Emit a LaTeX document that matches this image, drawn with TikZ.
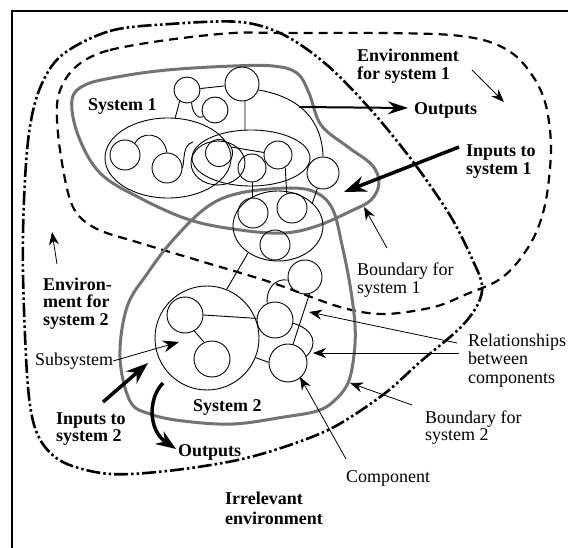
\documentclass[tikz,border=0pt]{standalone}
\usepackage{fontspec}
\setmainfont{Liberation Serif}
\usetikzlibrary{arrows.meta}
\begin{document}
\begin{tikzpicture}[x=1pt,y=-1pt,
  comp/.style={circle,draw,line width=0.9pt,inner sep=0pt},
  bnd/.style={draw=black!55,line width=3pt,line join=round},
  envone/.style={draw,line width=2.2pt,dash pattern=on 9pt off 6pt},
  envtwo/.style={draw,line width=2.6pt,dash pattern=on 14pt off 3pt on 2.5pt off 3pt on 2.5pt off 3pt},
  rel/.style={line width=0.9pt},
  lbl/.style={inner sep=0pt,anchor=north west,align=left,font=\fontsize{18}{17.5}\selectfont},
  blbl/.style={lbl,font=\fontsize{18}{17.5}\selectfont\bfseries},
  thinarr/.style={line width=0.8pt,-{Stealth[length=13pt,width=10pt]}},
  medarr/.style={line width=2pt,-{Stealth[length=20pt,width=13pt]}},
  thickarr/.style={line width=3.5pt,-{Stealth[length=22pt,width=16pt]}},
]
\useasboundingbox (0,0) rectangle (568,548);
\fill[white] (0,0) rectangle (568,548);

% frame
\draw[line width=2.6pt] (12,548) -- (12,11) -- (568,11);

% environment for system 2 (dash-dot)
\draw[envtwo] plot[smooth cycle,tension=0.55] coordinates {
 (62,55) (110,31) (170,24) (240,22) (284,35) (327,65) (371,110) (414,163)
 (451,217) (474,263) (482,285) (478,304) (460,328) (420,362) (384,394) (334,427)
 (284,447) (233,461) (167,471) (110,474) (67,464) (45,447) (33,421) (27,374)
 (23,274) (24,200) (29,133) (40,88)};

% environment for system 1 (dashed)
\draw[envone] plot[smooth cycle,tension=0.55] coordinates {
 (82,62) (110,50) (167,40) (233,33) (284,33) (384,33) (451,35) (490,42)
 (517,57) (537,83) (547,110) (551,150) (546,200) (535,235) (517,263) (497,281)
 (467,294) (434,307) (384,314) (340,307) (273,283) (207,263) (140,243) (95,228)
 (72,205) (60,150) (57,105) (65,80)};

% boundary for system 1
\draw[bnd] plot[smooth cycle,tension=0.6] coordinates {
 (72,100) (85,85) (117,77) (167,70) (233,66) (273,66) (297,73) (309,93)
 (321,125) (348,147) (372,165) (379,183) (371,200) (351,211) (317,226) (284,233)
 (240,230) (190,220) (140,198) (100,173) (78,135)};

% boundary for system 2
\draw[bnd] plot[smooth cycle,tension=0.6] coordinates {
 (147,274) (173,240) (207,207) (240,193) (290,188) (317,193) (333,210) (342,245)
 (350,285) (355,325) (354,355) (348,383) (334,401) (317,411) (284,417) (233,424)
 (183,421) (150,414) (130,401) (120,357) (127,307)};

% subsystem ellipses
\draw[rel] (168,158) ellipse [x radius=63, y radius=40];
\draw[rel] (251,158) ellipse [x radius=59, y radius=28];
\draw[rel] (218,163) ellipse [x radius=27, y radius=22];
\draw[rel] (278,226) ellipse [x radius=45, y radius=35];

% components
\node[comp,minimum size=26pt] (c1) at (187,90) {};
\node[comp,minimum size=34pt] (c2) at (242,84) {};
\node[comp,minimum size=26pt] (c3) at (215,110) {};
\node[comp,minimum size=30pt] (c4) at (125,155) {};
\node[comp,minimum size=30pt] (c5) at (167,168) {};
\node[comp,minimum size=27pt] (c6) at (219,153) {};
\node[comp,minimum size=28pt] (c7) at (252,168) {};
\node[comp,minimum size=28pt] (c8) at (278,155) {};
\node[comp,minimum size=32pt] (c9) at (323,173) {};
\node[comp,minimum size=30pt] (c10) at (253,213) {};
\node[comp,minimum size=30pt] (c11) at (292,208) {};
\node[comp,minimum size=30pt] (c12) at (275,245) {};
\node[comp,minimum size=34pt] (c13) at (305,277) {};
\node[comp,minimum size=104pt] (s2) at (207,338) {};
\node[comp,minimum size=36pt] (c14) at (185,315) {};
\node[comp,minimum size=36pt] (c15) at (212,359) {};
\node[comp,minimum size=36pt] (c16) at (275,320) {};
\node[comp,minimum size=38pt] (c17) at (288,363) {};

\coordinate (e1t) at (175,118.5);
\coordinate (e2t) at (245,130.3);
\coordinate (e2b) at (193,142);
\coordinate (e3a) at (248,253);
\coordinate (e3b) at (312,204);

% relationships
\draw[rel] (c1) -- (c2);
\draw[rel] (c1.237) -- (e1t);
\draw[rel] (c1.-70) .. controls (192,112) and (198,120) .. (c3.210);
\draw[rel] (c2.-80) -- (e2t);
\draw[rel] (c2.-20) .. controls (300,97) and (322,120) .. (c9.90);
\draw[rel] (c4.50) .. controls (140,132) and (163,130) .. (c5.90);
\draw[rel] (c5.0) .. controls (185,160) and (182,145) .. (e2b);
\draw[rel] (c6.25) -- (c8.170);
\draw[rel] (c7.-88) -- (c10.92);
\draw[rel] (c8.-60) -- (c11.110);
\draw[rel] (c9.250) -- (e3b);
\draw[rel] (s2.68) -- (e3a);
\draw[rel] (c14.0) -- (c16.175);
\draw[rel] (c14.-60) -- (c15.115);
\draw[rel] (s2.-22) -- (c17.178);
\draw[rel] (c16.115) .. controls (266,290) and (274,278) .. (c13.190);
\draw[rel] (c13.-75) -- (c17.75);
\draw[rel] (c16.-10) .. controls (315,330) and (318,345) .. (c17.20);

% labels
\node[blbl] (sys1) at (88,98.7) {System 1};
\node[blbl] (env1) at (357,49.2) {Environment\\for system 1};
\node[blbl] (out1) at (414,102.7) {Outputs};
\node[blbl] (in1) at (466,144.7) {Inputs to\\system 1};
\node[lbl,font=\fontsize{18}{18}\selectfont] (bd1) at (357,262.7) {Boundary for\\system 1};
\node[lbl,font=\fontsize{18}{18.5}\selectfont] (rell) at (468,333.7) {Relationships\\between\\components};
\node[lbl,font=\fontsize{18}{17}\selectfont] (bd2) at (425,410.7) {Boundary for\\system 2};
\node[lbl] (compl) at (346,470.7) {Component};
\node[blbl] (env2) at (43,277.7) {Environ-\\ment for\\system 2};
\node[lbl] (subl) at (35,352.7) {Subsystem};
\node[blbl,font=\fontsize{18}{17}\selectfont\bfseries] (in2) at (56,412.7) {Inputs to\\system 2};
\node[blbl] (sys2) at (193,399.7) {System 2};
\node[blbl] (out2) at (178,444.7) {Outputs};
\node[blbl,font=\fontsize{18}{20}\selectfont\bfseries] (irr) at (225,491.7) {Irrelevant\\environment};

% arrow ends
\coordinate (a1s) at (472,70);   \coordinate (a1e) at (504,102);
\coordinate (o1s) at (299,107);  \coordinate (o1e) at (408,108);
\coordinate (i1s) at (459,147);  \coordinate (i1e) at (344,192);
\coordinate (b1s) at (387,248);  \coordinate (b1e) at (364,207);
\coordinate (r1s) at (457,343);  \coordinate (r1e) at (309,312);
\coordinate (r2s) at (459,353);  \coordinate (r2e) at (313,353);
\coordinate (b2s) at (412,405);  \coordinate (b2e) at (350,383);
\coordinate (cps) at (346,459);  \coordinate (cpe) at (300,377);
\coordinate (e2s) at (57,264);   \coordinate (e2e) at (52,232);
\coordinate (sbs) at (113,361);  \coordinate (sbe) at (179,342);
\coordinate (i2s) at (103,402);  \coordinate (i2e) at (148,363);
\coordinate (o2s) at (163,383);  \coordinate (o2e) at (176,449);

\draw[thinarr] (a1s) -- (a1e);
\draw[medarr] (o1s) -- (o1e);
\draw[thickarr] (i1s) -- (i1e);
\draw[thinarr] (b1s) -- (b1e);
\draw[thinarr] (r1s) -- (r1e);
\draw[thinarr] (r2s) -- (r2e);
\draw[thinarr] (b2s) -- (b2e);
\draw[thinarr] (cps) -- (cpe);
\draw[thinarr] (e2s) -- (e2e);
\draw[line width=0.8pt,-{Stealth[length=16pt,width=12pt]}] (sbs) -- (sbe);
\draw[thickarr] (i2s) -- (i2e);
\draw[line width=3.5pt,-{Stealth[length=20pt,width=15pt]}] (o2s) .. controls (148,398) and (148,430) .. (o2e);
\end{tikzpicture}
\end{document}
